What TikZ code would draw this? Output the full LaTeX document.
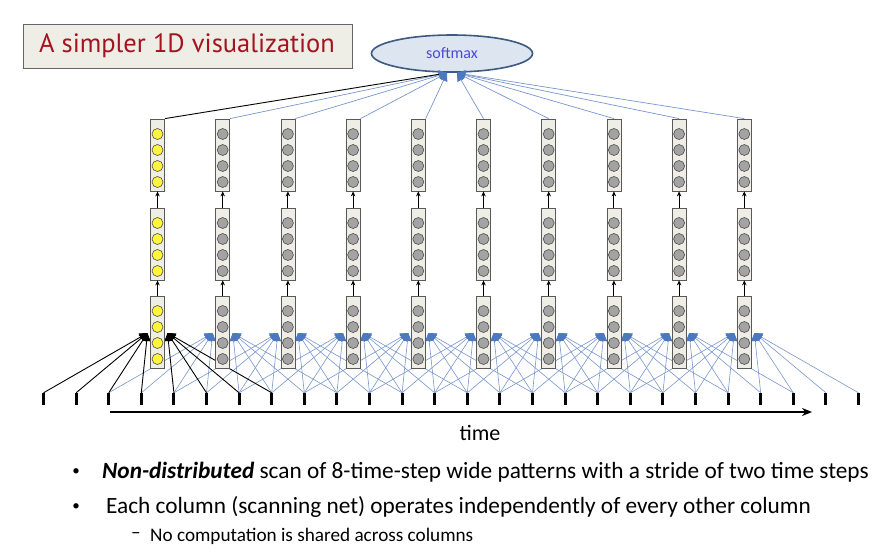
\documentclass[tikz,border=0pt]{standalone}
\usepackage{fontspec}
\setmainfont{Carlito}
\newfontfamily\titlefont{PT Sans}
\usepackage{tikz}
\usetikzlibrary{arrows.meta}
\usetikzlibrary{shapes.geometric}
\usepackage{xcolor}
\definecolor{unitfill}{HTML}{EFEEE6}
\definecolor{unitgray}{HTML}{A3A3A3}
\definecolor{unityellow}{HTML}{FFF53A}
\definecolor{linkblue}{HTML}{7896CB}
\definecolor{tipblue}{HTML}{4C78C0}
\definecolor{titlered}{HTML}{A3141E}
\definecolor{smfill}{HTML}{DDE5F1}
\definecolor{smdraw}{HTML}{3D5A80}
\definecolor{smtext}{HTML}{4B4BD2}

\begin{document}
\begin{tikzpicture}[x=1pt,y=-1pt,
  unit/.style={draw=black!65, fill=unitfill, line width=0.8pt, minimum width=14pt, minimum height=72pt, inner sep=0pt},
  neuron/.style={circle, draw=black!70, line width=0.6pt, minimum size=11pt, inner sep=0pt},
  timetick/.style={fill=black, minimum width=3pt, minimum height=12pt, inner sep=0pt},
  feed/.style={black, line width=0.9pt, -{Stealth[length=5pt,width=4.5pt]}},
  link/.style={linkblue, line width=0.6pt, -{Triangle[length=8pt,width=8pt,color=tipblue]}},
  blacklink/.style={black, line width=0.9pt, -{Triangle[length=8pt,width=8pt]}},
  bullettext/.style={anchor=west, inner sep=0pt, font=\fontsize{23.3}{27}\selectfont},
  dot/.style={anchor=center, inner sep=0pt, font=\fontsize{15}{18}\selectfont}
]
\useasboundingbox (0,0) rectangle (884,558);

\node[draw=black!60, fill=unitfill, line width=0.8pt, minimum width=329pt, minimum height=44pt] (title) at (187.5,46) {};
\node[text=titlered, font=\titlefont\fontsize{26.5}{30}\selectfont] (titletext) at (187,46) {A simpler 1D visualization};

\node[ellipse, draw=smdraw, fill=smfill, line width=1.6pt, minimum width=161pt, minimum height=37pt, text=smtext, font=\fontsize{16}{18}\selectfont] (softmax) at (452,53.5) {softmax};
\coordinate (smL) at (447,73);
\coordinate (smR) at (457,73);

\foreach \k in {0,...,25}
  \node[timetick] (t\k) at (43.5+32.6*\k,399) {};

\foreach \j in {0,...,9} {
  \coordinate (inL\j) at (147.5+65.2*\j,333);
  \coordinate (inR\j) at (167.5+65.2*\j,333);
}

\foreach \j in {1,...,9}
  \foreach \k in {0,...,7} {
    \pgfmathtruncatemacro\t{2*\j+\k}
    \ifnum\k<4
      \draw[link] (t\t.north) -- (inL\j);
    \else
      \draw[link] (t\t.north) -- (inR\j);
    \fi
  }
\foreach \k in {0,...,7} {
  \ifnum\k<4
    \draw[blacklink] (t\k.north) -- (inL0);
  \else
    \draw[blacklink] (t\k.north) -- (inR0);
  \fi
}

\foreach \j in {0,...,9} {
  \ifnum\j=0 \def\ncol{unityellow}\else\def\ncol{unitgray}\fi
  \node[unit] (top\j) at (157.5+65.2*\j,155) {};
  \node[unit] (mid\j) at (157.5+65.2*\j,244) {};
  \node[unit] (bot\j) at (157.5+65.2*\j,332) {};
  \foreach \d [count=\i] in {-21,-5,11,27} {
    \node[neuron, fill=\ncol] (top\j-\i) at ([yshift=-\d pt]top\j.center) {};
    \node[neuron, fill=\ncol] (mid\j-\i) at ([yshift=-\d pt]mid\j.center) {};
    \node[neuron, fill=\ncol] (bot\j-\i) at ([yshift=-\d pt]bot\j.center) {};
  }
  \draw[feed] (bot\j.north) -- (mid\j.south);
  \draw[feed] (mid\j.north) -- (top\j.south);
}

\foreach \j in {1,...,4}
  \draw[link, line width=0.7pt] (top\j.north east) -- (smL);
\foreach \j in {5,...,9}
  \draw[link, line width=0.7pt] (top\j.north) -- (smR);
\draw[black, line width=0.9pt, -{Triangle[length=8pt,width=8pt,color=tipblue]}] (top0.north east) -- (smL);

\coordinate (tfrom) at (110,412);
\coordinate (tto) at (812,412);
\draw[black, line width=1.6pt, -{Stealth[length=10pt,width=8pt]}] (tfrom) -- (tto);
\node[font=\fontsize{22}{26}\selectfont] (timelabel) at (480,433) {time};

\node[dot] (b1) at (76,472) {\textbullet};
\node[bullettext] (l1) at (102,472) {\textbf{\textit{Non-distributed}} scan of 8-time-step wide patterns with a stride of two time steps};
\node[dot] (b2) at (76,507) {\textbullet};
\node[bullettext] (l2) at (106,507) {Each column (scanning net) operates independently of every other column};
\node[bullettext, font=\fontsize{19.2}{22}\selectfont] (d3) at (131,536) {\textendash};
\node[bullettext, font=\fontsize{19.2}{22}\selectfont] (l3) at (150,536) {No computation is shared across columns};
\end{tikzpicture}
\end{document}
